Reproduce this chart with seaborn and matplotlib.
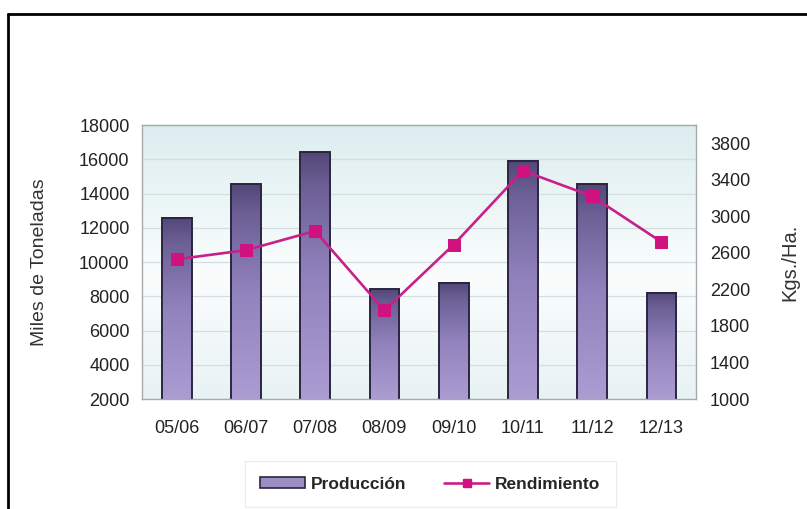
import numpy as np
import pandas as pd
import matplotlib
matplotlib.use("Agg")
import matplotlib.pyplot as plt
import seaborn as sns
from matplotlib.colors import LinearSegmentedColormap
from matplotlib.lines import Line2D
from matplotlib.patches import Patch

# Campaign data
campanas = ["05/06", "06/07", "07/08", "08/09", "09/10", "10/11", "11/12", "12/13"]
produccion = [12600, 14550, 16400, 8400, 8800, 15900, 14550, 8200]   # miles de toneladas
rendimiento = [2530, 2630, 2840, 1970, 2690, 3500, 3220, 2720]       # kgs./ha

left_ticks = [2000, 4000, 6000, 8000, 10000, 12000, 14000, 16000, 18000]
right_ticks = [1000, 1400, 1800, 2200, 2600, 3000, 3400, 3800]
y_left = (2000, 18000)
y_right = (1000, 4000)

sns.set_theme(style="white")
plt.rcParams["font.family"] = ["Liberation Sans", "DejaVu Sans"]

fig = plt.figure(figsize=(8.07, 5.09), dpi=100)
ax = fig.add_axes([0.176, 0.216, 0.6865, 0.5384])

df = pd.DataFrame({"campana": campanas, "produccion": produccion})
sns.barplot(data=df, x="campana", y="produccion", ax=ax, width=0.43,
            color="#8e80b8", edgecolor="#2b2540", linewidth=1.4, zorder=2)

# soft vertical background gradient for the plotting area
bg_cmap = LinearSegmentedColormap.from_list(
    "bg", [(0.0, "#e8f2f4"), (0.45, "#fbfdfd"), (1.0, "#dcedef")])
grad = np.linspace(0, 1, 256).reshape(-1, 1)
ax.imshow(grad, extent=[-0.5, 7.5, y_left[0], y_left[1]], origin="lower",
          aspect="auto", cmap=bg_cmap, zorder=0, interpolation="bicubic")

# purple gradient inside each bar (visible part only)
bar_cmap = LinearSegmentedColormap.from_list(
    "bar", [(0.0, "#ab9cd2"), (0.5, "#9182bd"), (0.85, "#6e6197"), (1.0, "#524878")])
for p in list(ax.patches):
    x0, w = p.get_x(), p.get_width()
    top = p.get_y() + p.get_height()
    ax.imshow(grad, extent=[x0, x0 + w, y_left[0], top], origin="lower",
              aspect="auto", cmap=bar_cmap, zorder=1.8, interpolation="bicubic")
    p.set_facecolor("none")

ax.set_xlim(-0.5, 7.5)
ax.set_ylim(*y_left)
ax.set_yticks(left_ticks)
ax.set_axisbelow(True)
ax.yaxis.grid(True, color="#d3dee0", linewidth=0.9)
ax.xaxis.grid(False)
for s in ax.spines.values():
    s.set_color("#a3abad")
    s.set_linewidth(1.0)
ax.tick_params(axis="both", length=0, labelsize=13, colors="#222222", pad=9)
ax.tick_params(axis="x", pad=15)
ax.set_xlabel("")
ax.set_ylabel("Miles de Toneladas", fontsize=14, color="#333333", labelpad=22)

ax2 = ax.twinx()
sns.lineplot(x=np.arange(len(campanas)), y=rendimiento, ax=ax2, color="#c8208a",
             linewidth=1.9, marker="s", markersize=9, markerfacecolor="#d0127f",
             markeredgecolor="#d0127f", zorder=3)
ax2.set_ylim(*y_right)
ax2.set_yticks(right_ticks)
ax2.set_xlim(-0.5, 7.5)
ax2.tick_params(axis="y", length=0, labelsize=13, colors="#222222", pad=10)
for s in ax2.spines.values():
    s.set_visible(False)
ax2.grid(False)
ax2.set_ylabel("Kgs./Ha.", fontsize=14.5, color="#333333", labelpad=22)

# legend below the plot
handles = [
    Patch(facecolor="#9a8ec2", edgecolor="#2b2540", linewidth=1.2, label="Producción"),
    Line2D([0], [0], color="#c8208a", linewidth=1.9, marker="s", markersize=6,
           markerfacecolor="#d0127f", markeredgecolor="#d0127f", label="Rendimiento"),
]
leg = fig.legend(handles=handles, loc="center", bbox_to_anchor=(0.533, 0.049),
                 ncol=2, frameon=True, fancybox=False, edgecolor="#e6e6e6",
                 prop={"weight": "bold", "size": 12.5}, handlelength=2.6,
                 handleheight=0.55, columnspacing=2.2, borderpad=0.9,
                 handletextpad=0.3, borderaxespad=0)
leg.get_frame().set_linewidth(0.8)

# page frame (top and left edges)
fig.add_artist(Line2D([8 / 807, 1.0], [1 - 14 / 509, 1 - 14 / 509],
                      transform=fig.transFigure, color="black", linewidth=2.0))
fig.add_artist(Line2D([8 / 807, 8 / 807], [0.0, 1 - 14 / 509],
                      transform=fig.transFigure, color="black", linewidth=2.0))

fig.savefig("out.png", dpi=100)
